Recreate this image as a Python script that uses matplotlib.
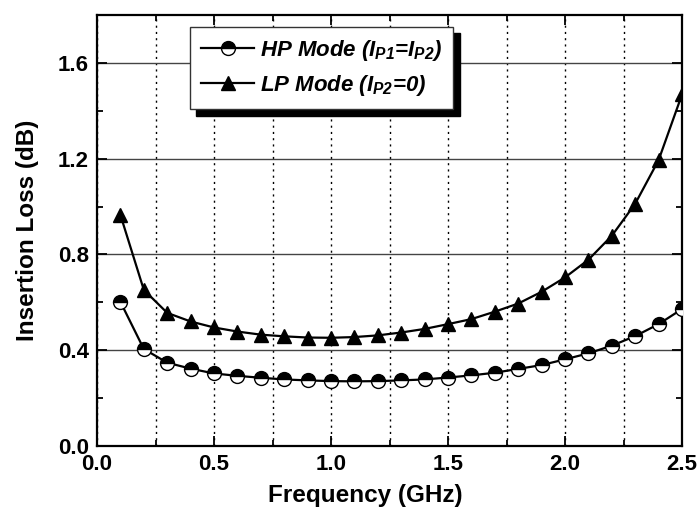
import matplotlib
matplotlib.use("Agg")
import matplotlib.pyplot as plt
from matplotlib.ticker import MultipleLocator, FormatStrFormatter

plt.rcParams['font.family'] = ['Liberation Sans', 'DejaVu Sans']
plt.rcParams['font.weight'] = 'bold'
plt.rcParams['mathtext.fontset'] = 'custom'
plt.rcParams['mathtext.rm'] = 'Liberation Sans:bold:italic'
plt.rcParams['mathtext.it'] = 'Liberation Sans:bold:italic'
plt.rcParams['mathtext.bf'] = 'Liberation Sans:bold:italic'

freq = [0.1, 0.2, 0.3, 0.4, 0.5, 0.6, 0.7, 0.8, 0.9, 1.0, 1.1, 1.2, 1.3,
        1.4, 1.5, 1.6, 1.7, 1.8, 1.9, 2.0, 2.1, 2.2, 2.3, 2.4, 2.5]
hp_loss = [0.602, 0.405, 0.348, 0.323, 0.303, 0.293, 0.285, 0.278, 0.274, 0.271,
           0.270, 0.271, 0.274, 0.278, 0.286, 0.295, 0.306, 0.322, 0.338, 0.362,
           0.387, 0.419, 0.459, 0.509, 0.572]
lp_loss = [0.965, 0.652, 0.556, 0.520, 0.495, 0.478, 0.465, 0.458, 0.453, 0.452,
           0.455, 0.462, 0.474, 0.489, 0.509, 0.530, 0.561, 0.595, 0.644, 0.704,
           0.778, 0.878, 1.012, 1.194, 1.468]
hp_label = r"HP Mode ($I_{P1}$=$I_{P2}$)"
lp_label = r"LP Mode ($I_{P2}$=0)"

fig = plt.figure(figsize=(6.99, 5.12), dpi=100)
ax = fig.add_axes([0.1388, 0.1289, 0.8369, 0.8418])

ax.plot(freq, hp_loss, color='black', lw=1.6, marker='o', markersize=10,
        fillstyle='top', markerfacecolor='black', markerfacecoloralt='white',
        markeredgecolor='black', markeredgewidth=1.0, label=hp_label, zorder=4)
ax.plot(freq, lp_loss, color='black', lw=1.6, marker='^', markersize=10,
        markerfacecolor='black', markeredgecolor='black', label=lp_label, zorder=4)

ax.set_xlim(0, 2.5)
ax.set_ylim(0, 1.8)
ax.xaxis.set_major_locator(MultipleLocator(0.5))
ax.xaxis.set_minor_locator(MultipleLocator(0.25))
ax.yaxis.set_major_locator(MultipleLocator(0.4))
ax.yaxis.set_minor_locator(MultipleLocator(0.2))
ax.xaxis.set_major_formatter(FormatStrFormatter('%.1f'))
ax.yaxis.set_major_formatter(FormatStrFormatter('%.1f'))

ax.tick_params(which='both', direction='in', top=True, right=True,
               width=1.3, labelsize=16)
ax.tick_params(which='major', length=7, pad=6)
ax.tick_params(which='minor', length=4)

for s in ax.spines.values():
    s.set_linewidth(1.6)

# grid: solid horizontal at major y, dotted vertical every 0.25 GHz
ax.grid(True, axis='y', which='major', color='#444444', lw=1.0, ls='-', zorder=1)
ax.grid(True, axis='x', which='both', color='black', lw=1.0, ls=(0, (1.5, 3)), zorder=1)
ax.set_axisbelow(True)

ax.set_xlabel('Frequency (GHz)', fontsize=17.5, fontweight='bold')
ax.set_ylabel('Insertion Loss (dB)', fontsize=17.5, fontweight='bold')
ax.xaxis.set_label_coords(0.458, -0.088)
ax.yaxis.set_label_coords(-0.10, 0.5)

leg = ax.legend(loc='upper left', bbox_to_anchor=(0.159, 0.972), fancybox=False,
                frameon=True, edgecolor='#333333', framealpha=1,
                shadow={'ox': 4.5, 'oy': -4.5, 'color': 'black', 'alpha': 1},
                prop={'weight': 'bold', 'style': 'italic', 'size': 16},
                handlelength=2.4, borderpad=0.5, labelspacing=0.45,
                handletextpad=0.25, borderaxespad=0)
leg.get_frame().set_linewidth(1.0)
leg.set_zorder(6)

fig.savefig('out.png', dpi=100)
